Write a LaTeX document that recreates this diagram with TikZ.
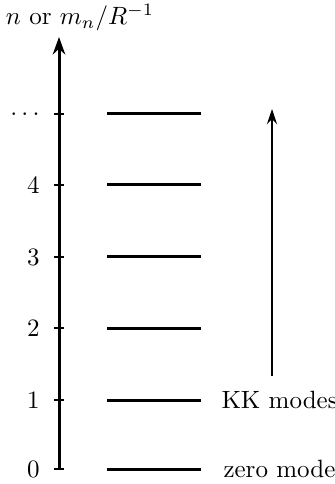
\documentclass[tikz,border=0pt]{standalone}
\usetikzlibrary{arrows.meta}
\begin{document}
\begin{tikzpicture}[x=0.4pt,y=-0.4pt,
  axisline/.style={line width=1.2pt,-{Stealth[length=7pt,width=5pt]}},
  tickline/.style={line width=0.6pt},
  level/.style={line width=1.2pt},
  modearrow/.style={line width=0.8pt,-{Stealth[length=6pt,width=4pt]}},
  ticklabel/.style={anchor=east,inner sep=0pt},
  modelabel/.style={anchor=west,inner sep=0pt}]
\useasboundingbox (0,0) rectangle (334,484);
% axis
\coordinate (a0) at (59,470);
\coordinate (atop) at (59,37);
\draw[axisline] (a0) -- (atop);
\node[anchor=base,inner sep=0pt] (axlab) at (80,25) {$n$ or $m_n/R^{-1}$};
% ticks and levels
\foreach \i/\y/\t in {0/469/0,1/400/1,2/328/2,3/257/3,4/185/4,5/114/\dots}{
  \coordinate (tl\i) at (54,\y);
  \coordinate (tr\i) at (64,\y);
  \draw[tickline] (tl\i) -- (tr\i);
  \node[ticklabel] (lab\i) at (40,\y) {$\t$};
  \coordinate (ll\i) at (107,\y);
  \coordinate (lr\i) at (201,\y);
  \draw[level] (ll\i) -- (lr\i);
}
\node[modelabel] (kk) at (221,400) {KK modes};
\node[modelabel] (zm) at (223,469) {zero mode};
\coordinate (ma) at (272,376);
\coordinate (mb) at (272,109);
\draw[modearrow] (ma) -- (mb);
\end{tikzpicture}
\end{document}
